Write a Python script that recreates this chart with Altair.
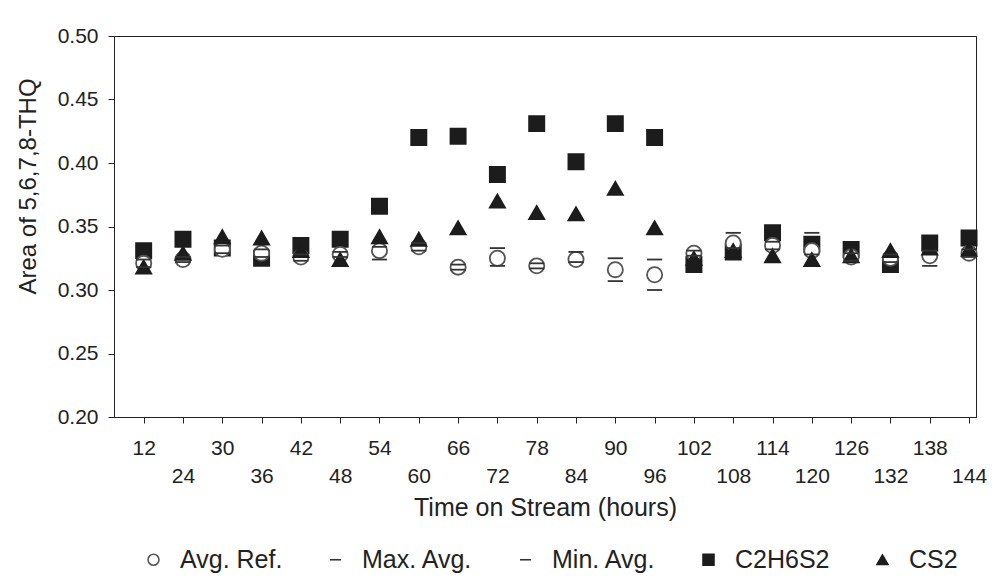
import altair as alt
import pandas as pd

hours = [12, 24, 30, 36, 42, 48, 54, 60, 66, 72, 78, 84, 90, 96, 102, 108, 114, 120, 126, 132, 138, 144]
avg_ref = [0.321, 0.324, 0.332, 0.329, 0.326, 0.328, 0.331, 0.334, 0.318, 0.325, 0.319, 0.324,
           0.316, 0.312, 0.329, 0.337, 0.335, 0.331, 0.326, 0.325, 0.327, 0.329]
max_avg = [0.324, 0.326, 0.335, 0.332, 0.328, 0.330, 0.334, 0.337, 0.320, 0.333, 0.321, 0.330,
           0.325, 0.324, 0.331, 0.345, 0.338, 0.345, 0.329, 0.328, 0.331, 0.332]
min_avg = [0.318, 0.322, 0.329, 0.326, 0.323, 0.326, 0.324, 0.331, 0.316, 0.319, 0.317, 0.322,
           0.307, 0.300, 0.327, 0.333, 0.332, 0.328, 0.323, 0.322, 0.319, 0.326]
c2h6s2 = [0.331, 0.340, 0.333, 0.325, 0.335, 0.340, 0.366, 0.420, 0.421, 0.391, 0.431, 0.401,
          0.431, 0.420, 0.320, 0.330, 0.345, 0.336, 0.332, 0.320, 0.337, 0.341]
cs2 = [0.318, 0.329, 0.342, 0.341, 0.331, 0.324, 0.342, 0.340, 0.349, 0.370, 0.361, 0.360,
       0.380, 0.349, 0.325, 0.331, 0.327, 0.324, 0.327, 0.331, 0.333, 0.332]

series_names = ["Avg. Ref.", "Max. Avg.", "Min. Avg.", "C2H6S2", "CS2"]
draw_order = [("C2H6S2", c2h6s2), ("Avg. Ref.", avg_ref), ("CS2", cs2),
              ("Max. Avg.", max_avg), ("Min. Avg.", min_avg)]

rows = []
for name, vals in draw_order:
    for h, v in zip(hours, vals):
        rows.append({"hours": h, "value": v, "series": name})
df = pd.DataFrame(rows)

FONT = "Liberation Sans"

x_scale = alt.Scale(type="point", domain=hours, padding=0.466, align=0.81)
y_scale = alt.Scale(domain=[0.2, 0.5], nice=False, zero=False)

legend = alt.Legend(title=None, orient="none", direction="horizontal", columns=5,
                    legendX=27, legendY=511, labelFontSize=25, labelFont=FONT,
                    labelColor="#222", symbolSize=120, symbolStrokeWidth=1.6,
                    columnPadding=40, labelOffset=14)

chart = alt.Chart(df).mark_point(filled=True, strokeWidth=1.8, opacity=1, size=230).encode(
    x=alt.X("hours:O", scale=x_scale,
            axis=alt.Axis(title="Time on Stream (hours)", labelAngle=0, tickSize=6,
                          labelPadding=14, labelLineHeight=28, labelFontSize=21,
                          titleFontSize=25, titlePadding=9, domainColor="#222",
                          tickColor="#222", labelColor="#222", titleColor="#222",
                          labelFont=FONT, titleFont=FONT, titleFontWeight="normal",
                          labelOverlap=False,
                          labelExpr="(datum.value == 12 || ((datum.value - 24) / 6) % 2 == 1) ? datum.label : ['', datum.label]")),
    y=alt.Y("value:Q", scale=y_scale,
            axis=alt.Axis(title="Area of 5,6,7,8-THQ", values=[0.2, 0.25, 0.3, 0.35, 0.4, 0.45, 0.5],
                          format=".2f", grid=False, tickSize=6, labelPadding=10,
                          labelFontSize=21, titleFontSize=24, titlePadding=17,
                          titleY=150,
                          domainColor="#222", tickColor="#222", labelColor="#222",
                          titleColor="#222", labelFont=FONT, titleFont=FONT,
                          titleFontWeight="normal")),
    shape=alt.Shape("series:N", scale=alt.Scale(domain=series_names,
                    range=["circle", "stroke", "stroke", "square", "triangle-up"]),
                    legend=legend),
    stroke=alt.Stroke("series:N", scale=alt.Scale(domain=series_names,
                      range=["#555555", "#333333", "#333333", "#1c1c1c", "#1c1c1c"]),
                      legend=legend),
    fill=alt.Fill("series:N", scale=alt.Scale(domain=series_names,
                  range=["#ffffff", "#333333", "#333333", "#1c1c1c", "#1c1c1c"]),
                  legend=legend),
).properties(
    width=862, height=381,
    autosize=alt.AutoSizeParams(type="none"),
    padding={"left": 106, "top": 28, "right": 11, "bottom": 157},
    background="white",
).configure_view(stroke="#222", strokeWidth=1)

chart.save("out.html", embed_options={"renderer": "svg", "actions": False})
